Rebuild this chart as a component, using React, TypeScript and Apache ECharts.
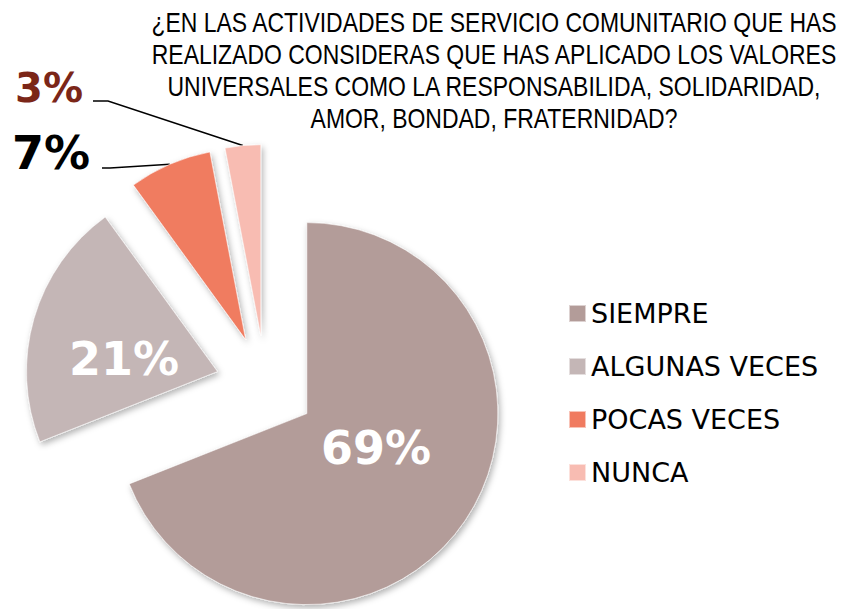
import { useEffect, useRef } from 'react';
import * as echarts from 'echarts';

const CATEGORIES = ['SIEMPRE', 'ALGUNAS VECES', 'POCAS VECES', 'NUNCA'];
const VALUES = [69, 21, 7, 3];
const COLORS = ['#b39c99', '#c4b6b6', '#f07b60', '#f8bcb2'];
const LABEL_COLORS = ['#ffffff', '#ffffff', '#000000', '#7b2618'];
const LABEL_SIZES = [46, 46, 46, 40];
const TITLE_LINES = [
  '¿EN LAS ACTIVIDADES DE SERVICIO COMUNITARIO QUE HAS',
  'REALIZADO CONSIDERAS QUE HAS APLICADO LOS VALORES',
  'UNIVERSALES COMO LA RESPONSABILIDA, SOLIDARIDAD,',
  'AMOR, BONDAD, FRATERNIDAD?',
];

// layout
const PIE_CX = 265.5;
const PIE_CY = 385.5;
const RADIUS = 191;
const EXPLODE = 50;
// label placements: inside labels (center) / outside labels (right edge + line knee)
const LABEL_PLACE: any[] = [
  { x: 376, y: 448 },
  { x: 124, y: 359 },
  { x: 90, y: 153, knee: [110, 168], end: [102, 168] },
  { x: 83, y: 88, knee: [108, 101], end: [93, 101] },
];

export default function App() {
  const ref = useRef<HTMLDivElement>(null);
  useEffect(() => {
    const chart = echarts.init(ref.current!, null, { renderer: 'svg' });
    const total = VALUES.reduce((a, b) => a + b, 0);
    let cum = 0;
    const mids = VALUES.map((v) => {
      const m = ((cum + v / 2) / total) * 2 * Math.PI;
      cum += v;
      return m;
    });

    const series = CATEGORIES.map((name, i) => {
      const ux = Math.sin(mids[i]);
      const uy = -Math.cos(mids[i]);
      const cx = PIE_CX + EXPLODE * ux;
      const cy = PIE_CY + EXPLODE * uy;
      const arcX = cx + RADIUS * ux;
      const arcY = cy + RADIUS * uy;
      const inside = i < 2;
      const place = LABEL_PLACE[i];
      return {
        type: 'pie',
        radius: RADIUS,
        center: [cx, cy],
        startAngle: 90,
        clockwise: true,
        silent: true,
        avoidLabelOverlap: false,
        animation: false,
        label: {
          show: true,
          position: inside ? 'inside' : 'outside',
          formatter: '{c}%',
          color: LABEL_COLORS[i],
          fontSize: LABEL_SIZES[i],
          fontWeight: 'bold',
          fontFamily: 'DejaVu Sans',
        },
        labelLine: {
          show: !inside,
          lineStyle: { color: '#000000', width: 1.5 },
        },
        labelLayout: (p: any) => {
          if (p.dataIndex !== i) return {};
          if (inside) {
            return { x: place.x, y: place.y, align: 'center', verticalAlign: 'middle' };
          }
          return {
            x: place.x,
            y: place.y,
            align: 'right',
            verticalAlign: 'middle',
            labelLinePoints: [[arcX, arcY], place.knee, place.end],
          };
        },
        data: VALUES.map((v, j) =>
          j === i
            ? {
                value: v,
                name,
                itemStyle: {
                  color: COLORS[i],
                  borderColor: 'rgba(255,255,255,0.55)',
                  borderWidth: 1,
                  shadowBlur: 6,
                  shadowColor: 'rgba(0,0,0,0.3)',
                  shadowOffsetX: 2,
                  shadowOffsetY: 3,
                },
              }
            : {
                value: v,
                name: `__hidden_${i}_${j}`,
                itemStyle: { color: 'rgba(0,0,0,0)', borderWidth: 0, shadowBlur: 0 },
                label: { show: false },
                labelLine: { show: false },
              }
        ),
      };
    });

    chart.setOption({
      animation: false,
      backgroundColor: '#ffffff',
      graphic: [
        {
          type: 'text',
          x: 494,
          y: 6,
          scaleX: 0.82,
          silent: true,
          style: {
            text: TITLE_LINES.join('\n'),
            fontFamily: '"Liberation Sans", Arial, sans-serif',
            fontSize: 28,
            lineHeight: 32,
            fill: '#000000',
            textAlign: 'center',
            textVerticalAlign: 'top',
          },
        },
      ],
      legend: {
        orient: 'vertical',
        left: 568,
        top: 300,
        padding: 0,
        itemGap: 26,
        itemWidth: 17,
        itemHeight: 17,
        icon: 'rect',
        selectedMode: false,
        textStyle: { fontFamily: 'DejaVu Sans', fontSize: 27, color: '#000000' },
        data: CATEGORIES.map((n, i) => ({ name: n, itemStyle: { color: COLORS[i] } })),
      },
      series,
    });
    return () => chart.dispose();
  }, []);
  return <div ref={ref} style={{ position: 'fixed', left: 0, top: 0, width: 856, height: 609 }} />;
}
